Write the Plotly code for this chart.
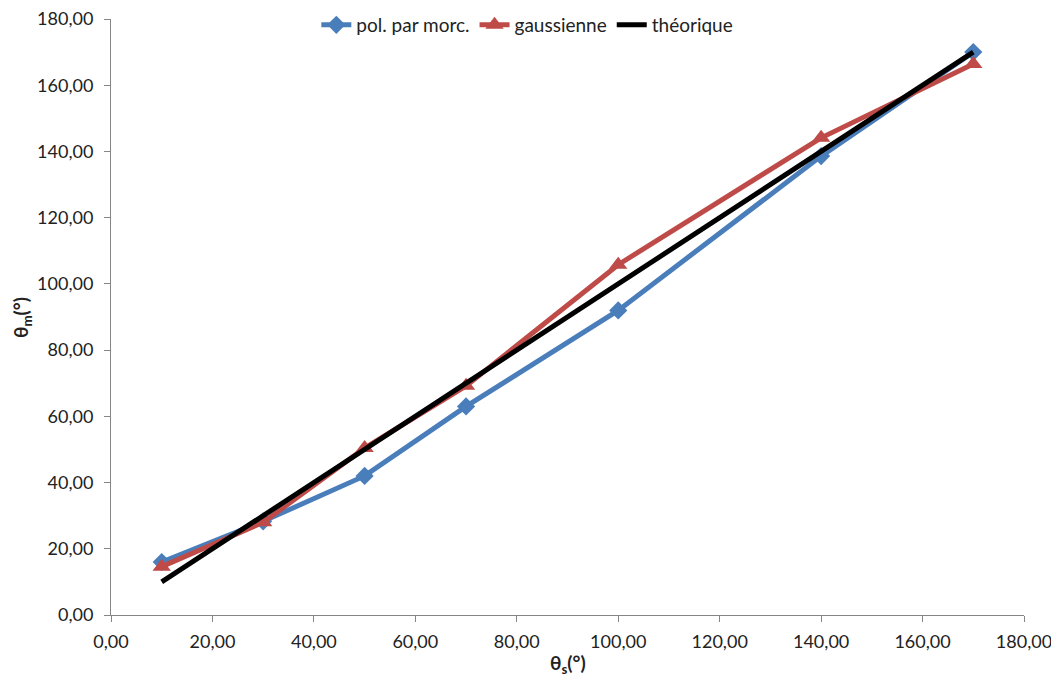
import plotly.graph_objects as go

x_vals = [10, 30, 50, 70, 100, 140, 170]
pol_morc = [16.0, 28.3, 42.0, 63.0, 92.0, 138.6, 170.0]
gaussienne = [14.6, 28.0, 50.4, 69.2, 105.8, 144.1, 166.4]
theo_x = [10, 170]
theo_y = [10, 170]

font_family = "Lato, 'Open Sans', sans-serif"

fig = go.Figure()
fig.add_trace(go.Scatter(x=x_vals, y=pol_morc, mode="lines+markers", name="pol. par morc.",
                         line=dict(color="#4A7EBB", width=5),
                         marker=dict(symbol="diamond", size=14, color="#4A7EBB")))
fig.add_trace(go.Scatter(x=x_vals, y=gaussienne, mode="lines+markers", name="gaussienne",
                         line=dict(color="#BE4B48", width=5),
                         marker=dict(symbol="triangle-up", size=16, color="#BE4B48")))
fig.add_trace(go.Scatter(x=theo_x, y=theo_y, mode="lines", name="théorique",
                         line=dict(color="#000000", width=5)))

fig.update_layout(
    width=1051, height=672,
    paper_bgcolor="white", plot_bgcolor="white",
    margin=dict(l=103, r=35, t=11, b=65, autoexpand=False),
    separators=", ",
    font=dict(family=font_family, size=17, color="#222222"),
    showlegend=True,
    legend=dict(orientation="h", x=0.456, xanchor="center",
                y=0.99, yanchor="middle",
                font=dict(size=19), bgcolor="rgba(0,0,0,0)", itemwidth=30,
                traceorder="normal"),
    xaxis=dict(range=[0, 180], dtick=20, tick0=0, tickformat=".2f", showgrid=False,
               zeroline=False, showline=True, linecolor="#868686", linewidth=1,
               ticks="outside", ticklen=6, tickcolor="#868686", automargin=False,
               ticklabeloverflow="allow", ticklabelstandoff=4, tickfont=dict(size=18)),
    yaxis=dict(range=[0, 180], dtick=20, tick0=0, tickformat=".2f", showgrid=False,
               zeroline=False, showline=True, linecolor="#868686", linewidth=1,
               ticks="outside", ticklen=6, tickcolor="#868686", automargin=False,
               ticklabeloverflow="allow", ticklabelstandoff=7, tickfont=dict(size=18)),
    annotations=[
        dict(text="<b>θ<sub>s</sub>(°)</b>", xref="paper", yref="paper",
             x=0.5, y=-0.082, xanchor="center", yanchor="middle",
             showarrow=False, font=dict(size=19)),
        dict(text="<b>θ<sub>m</sub>(°)</b>", xref="paper", yref="paper",
             x=-0.0975, y=0.5, xanchor="center", yanchor="middle", textangle=-90,
             showarrow=False, font=dict(size=19)),
    ],
)
fig.update_traces(cliponaxis=False)
fig.write_html("out.html")
